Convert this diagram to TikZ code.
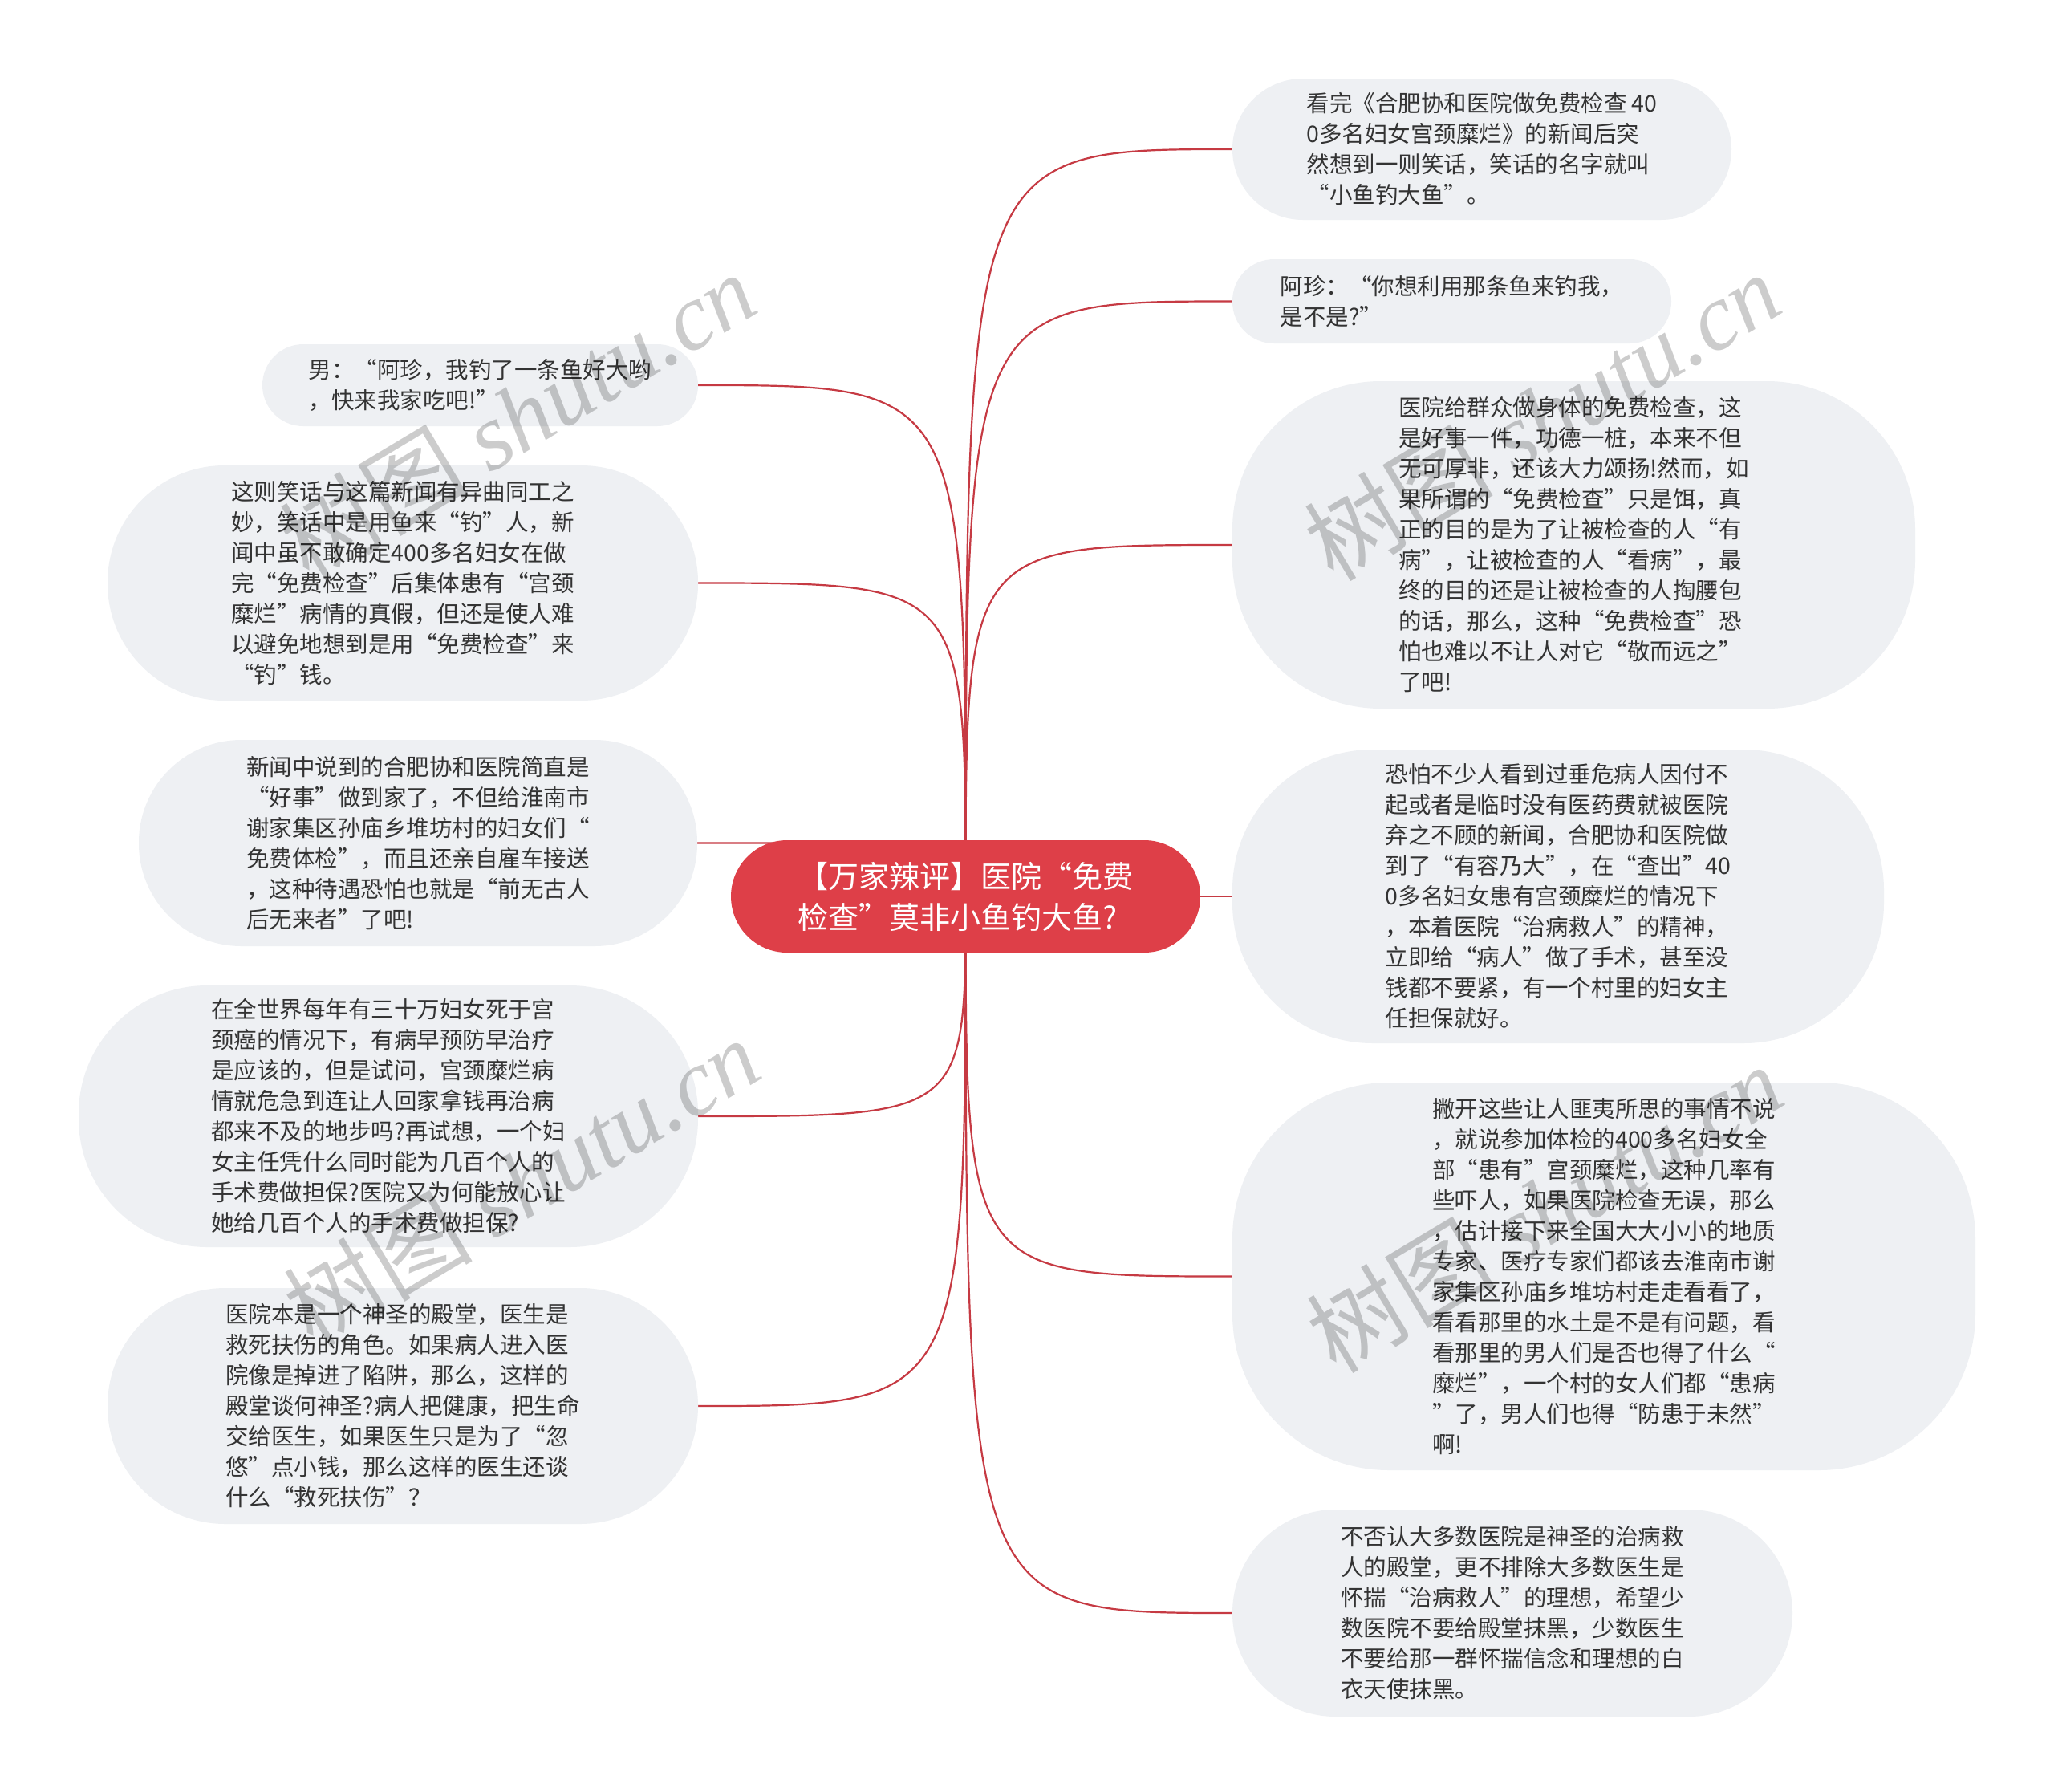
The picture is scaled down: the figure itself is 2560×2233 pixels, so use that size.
\documentclass[tikz,border=0pt]{standalone}
\usepackage{fontspec}
\setmainfont{Noto Sans CJK SC}
\newfontfamily\wmlatin{Liberation Serif}
\usetikzlibrary{backgrounds}
\definecolor{bubble}{HTML}{EEF0F3}
\definecolor{rootred}{HTML}{DE3F48}
\definecolor{linkred}{HTML}{C63A43}
\definecolor{txt}{HTML}{333333}
\tikzset{
  leaf/.style={fill=bubble, text=txt, align=left, inner sep=0pt,
    font=\fontsize{28.5}{38}\selectfont},
  rootnode/.style={fill=rootred, text=white, align=left, inner sep=0pt,
    font=\fontsize{38}{51}\selectfont, rounded corners=70pt,
    minimum width=585pt, minimum height=140pt},
  link/.style={draw=linkred, line width=2.2pt},
  wm/.style={text=black, opacity=0.2, rotate=31, inner sep=0pt,
    font=\fontsize{118}{120}\selectfont}
}
\begin{document}
\begin{tikzpicture}[x=1pt, y=-1pt]
\useasboundingbox (0,0) rectangle (2560,2233);

\node[rootnode] (c) at (1203.5,1117) {【万家辣评】医院“免费\\
检查”莫非小鱼钓大鱼?};

% right side
\node[leaf, minimum width=622pt, minimum height=176pt, rounded corners=88pt] (r1) at (1847,186) {看完《合肥协和医院做免费检查 40\\
0多名妇女宫颈糜烂》的新闻后突\\
然想到一则笑话，笑话的名字就叫\\
“小鱼钓大鱼”。};

\node[leaf, minimum width=547pt, minimum height=105pt, rounded corners=52pt] (r2) at (1809.5,375.5) {阿珍：“你想利用那条鱼来钓我，\\
是不是?”};

\node[leaf, minimum width=851pt, minimum height=408pt, rounded corners=185pt] (r3) at (1961.5,679) {医院给群众做身体的免费检查，这\\
是好事一件，功德一桩，本来不但\\
无可厚非，还该大力颂扬!然而，如\\
果所谓的“免费检查”只是饵，真\\
正的目的是为了让被检查的人“有\\
病”，让被检查的人“看病”，最\\
终的目的还是让被检查的人掏腰包\\
的话，那么，这种“免费检查”恐\\
怕也难以不让人对它“敬而远之”\\
了吧!};

\node[leaf, minimum width=812pt, minimum height=366pt, rounded corners=175pt] (r4) at (1942,1117) {恐怕不少人看到过垂危病人因付不\\
起或者是临时没有医药费就被医院\\
弃之不顾的新闻，合肥协和医院做\\
到了“有容乃大”，在“查出”40\\
0多名妇女患有宫颈糜烂的情况下\\
，本着医院“治病救人”的精神，\\
立即给“病人”做了手术，甚至没\\
钱都不要紧，有一个村里的妇女主\\
任担保就好。};

\node[leaf, minimum width=926pt, minimum height=483pt, rounded corners=195pt] (r5) at (1999,1590.5) {撇开这些让人匪夷所思的事情不说\\
，就说参加体检的400多名妇女全\\
部“患有”宫颈糜烂，这种几率有\\
些吓人，如果医院检查无误，那么\\
，估计接下来全国大大小小的地质\\
专家、医疗专家们都该去淮南市谢\\
家集区孙庙乡堆坊村走走看看了，\\
看看那里的水土是不是有问题，看\\
看那里的男人们是否也得了什么“\\
糜烂”，一个村的女人们都“患病\\
”了，男人们也得“防患于未然”\\
啊!};

\node[leaf, minimum width=698pt, minimum height=258pt, rounded corners=129pt] (r6) at (1885,2010) {不否认大多数医院是神圣的治病救\\
人的殿堂，更不排除大多数医生是\\
怀揣“治病救人”的理想，希望少\\
数医院不要给殿堂抹黑，少数医生\\
不要给那一群怀揣信念和理想的白\\
衣天使抹黑。};

% left side
\node[leaf, minimum width=543pt, minimum height=102pt, rounded corners=51pt] (l1) at (598.5,480) {男：“阿珍，我钓了一条鱼好大哟\\
，快来我家吃吧!”};

\node[leaf, minimum width=736pt, minimum height=293pt, rounded corners=146pt] (l2) at (502,726.5) {这则笑话与这篇新闻有异曲同工之\\
妙，笑话中是用鱼来“钓”人，新\\
闻中虽不敢确定400多名妇女在做\\
完“免费检查”后集体患有“宫颈\\
糜烂”病情的真假，但还是使人难\\
以避免地想到是用“免费检查”来\\
“钓”钱。};

\node[leaf, minimum width=696pt, minimum height=257pt, rounded corners=128pt] (l3) at (521,1050.5) {新闻中说到的合肥协和医院简直是\\
“好事”做到家了，不但给淮南市\\
谢家集区孙庙乡堆坊村的妇女们“\\
免费体检”，而且还亲自雇车接送\\
，这种待遇恐怕也就是“前无古人\\
后无来者”了吧!};

\node[leaf, minimum width=772pt, minimum height=326pt, rounded corners=160pt] (l4) at (484,1391) {在全世界每年有三十万妇女死于宫\\
颈癌的情况下，有病早预防早治疗\\
是应该的，但是试问，宫颈糜烂病\\
情就危急到连让人回家拿钱再治病\\
都来不及的地步吗?再试想，一个妇\\
女主任凭什么同时能为几百个人的\\
手术费做担保?医院又为何能放心让\\
她给几百个人的手术费做担保?};

\node[leaf, minimum width=736pt, minimum height=294pt, rounded corners=147pt] (l5) at (502,1752) {医院本是一个神圣的殿堂，医生是\\
救死扶伤的角色。如果病人进入医\\
院像是掉进了陷阱，那么，这样的\\
殿堂谈何神圣?病人把健康，把生命\\
交给医生，如果医生只是为了“忽\\
悠”点小钱，那么这样的医生还谈\\
什么“救死扶伤”？};

\begin{scope}[on background layer]
\fill[white] (0,0) rectangle (2560,2233);
\foreach \n in {r1,r2,r3,r4,r5,r6}
  \draw[link] (c.center) .. controls (c.center |- \n.west) .. (\n.west);
\foreach \n in {l1,l2,l3,l4,l5}
  \draw[link] (c.center) .. controls (c.center |- \n.east) .. (\n.east);
\end{scope}

% watermarks
\node[wm] (wm1) at (645,518) {树图 {\wmlatin\itshape shutu.cn}};
\node[wm] (wm2) at (1922,518) {树图 {\wmlatin\itshape shutu.cn}};
\node[wm] (wm3) at (650,1472) {树图 {\wmlatin\itshape shutu.cn}};
\node[wm] (wm4) at (1925,1505) {树图 {\wmlatin\itshape shutu.cn}};
\end{tikzpicture}
\end{document}
